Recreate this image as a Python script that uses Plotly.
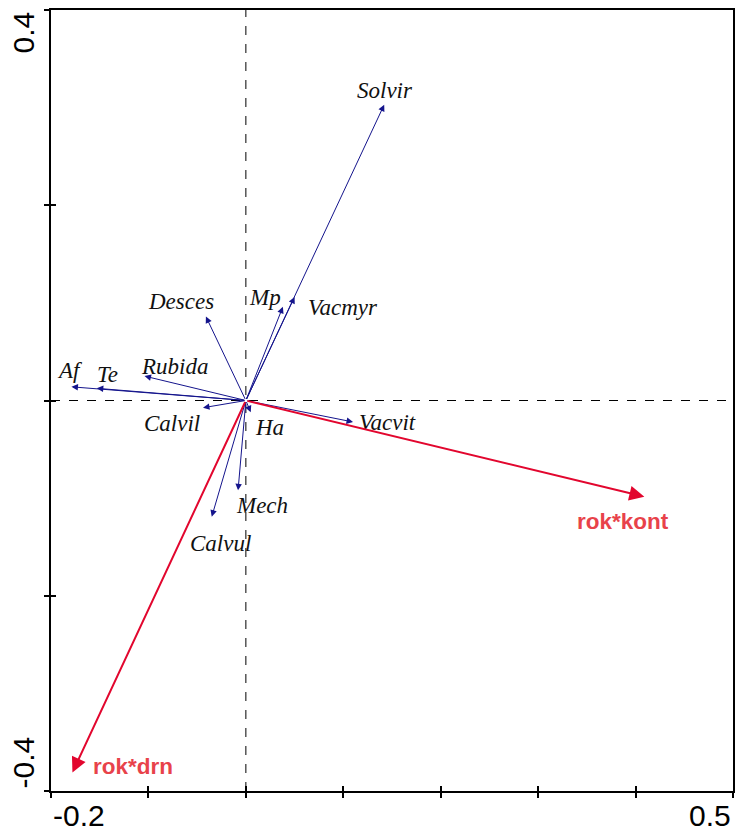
import plotly.graph_objects as go

# Species vectors (arrow tips) and their label anchors
species = ["Solvir", "Vacmyr", "Mp", "Desces", "Rubida", "Te", "Af",
           "Calvil", "Ha", "Mech", "Calvul", "Vacvit"]
sp_x = [0.142, 0.050, 0.038, -0.041, -0.104, -0.153, -0.179,
        -0.044, 0.005, -0.008, -0.035, 0.110]
sp_y = [0.303, 0.106, 0.096, 0.086, 0.025, 0.0125, 0.014,
        -0.0074, -0.012, -0.092, -0.119, -0.022]
sp_lab_x = [0.143, 0.100, 0.0195, -0.0665, -0.0737, -0.142, -0.180,
            -0.0757, 0.0246, 0.0164, -0.0256, 0.145]
sp_lab_y = [0.318, 0.095, 0.105, 0.101, 0.035, 0.027, 0.031,
            -0.024, -0.028, -0.108, -0.146, -0.023]

# Explanatory variables (interaction terms)
env = ["rok*kont", "rok*drn"]
env_x = [0.409, -0.178]
env_y = [-0.0986, -0.381]
env_lab_x = [0.387, -0.1157]
env_lab_y = [-0.1235, -0.3745]

x_range = [-0.2, 0.5]
y_range = [-0.4, 0.4]
x_ticks = [-0.2, -0.1, 0.0, 0.1, 0.2, 0.3, 0.4, 0.5]
y_ticks = [-0.4, -0.2, 0.0, 0.2, 0.4]

BLUE = "#14148c"
RED = "#e2062e"
RED_TXT = "#e8424a"

fig = go.Figure()
# invisible traces so both axis pairs are drawn
fig.add_trace(go.Scatter(x=x_range, y=y_range, mode="markers",
                         marker=dict(opacity=0), hoverinfo="skip", showlegend=False))
fig.add_trace(go.Scatter(x=x_range, y=y_range, mode="markers", xaxis="x2", yaxis="y2",
                         marker=dict(opacity=0), hoverinfo="skip", showlegend=False))

annotations = []
for name, x, y, lx, ly in zip(species, sp_x, sp_y, sp_lab_x, sp_lab_y):
    annotations.append(dict(x=x, y=y, ax=0, ay=0, xref="x", yref="y", axref="x", ayref="y",
                            showarrow=True, arrowhead=2, arrowsize=1.3, arrowwidth=1,
                            arrowcolor=BLUE, standoff=0, text=""))
    annotations.append(dict(x=lx, y=ly, xref="x", yref="y", text=name, showarrow=False,
                            font=dict(family="Liberation Serif", size=23, color="#111111",
                                      style="italic")))
for name, x, y, lx, ly in zip(env, env_x, env_y, env_lab_x, env_lab_y):
    annotations.append(dict(x=x, y=y, ax=0, ay=0, xref="x", yref="y", axref="x", ayref="y",
                            showarrow=True, arrowhead=2, arrowsize=1.5, arrowwidth=2,
                            arrowcolor=RED, standoff=0, text=""))
    annotations.append(dict(x=lx, y=ly, xref="x", yref="y", text=name, showarrow=False,
                            font=dict(family="Liberation Sans", size=22.5, color=RED_TXT,
                                      weight="bold")))

# Extreme axis values, justified inward
lab_font = dict(family="Liberation Sans", size=30, color="#000000")
annotations += [
    dict(x=x_range[0], y=0, xref="x", yref="paper", text="-0.2", showarrow=False,
         xanchor="left", yanchor="top", yshift=-6, font=lab_font),
    dict(x=x_range[1], y=0, xref="x", yref="paper", text="0.5", showarrow=False,
         xanchor="right", yanchor="top", yshift=-6, font=lab_font),
    dict(x=0, y=y_range[1], xref="paper", yref="y", text="0.4", showarrow=False,
         textangle=-90, xanchor="right", yanchor="top", xshift=-10, font=lab_font),
    dict(x=0, y=y_range[0], xref="paper", yref="y", text="-0.4", showarrow=False,
         textangle=-90, xanchor="right", yanchor="bottom", xshift=-10, font=lab_font),
]

shapes = [
    dict(type="line", xref="x", yref="paper", x0=0, x1=0, y0=0, y1=1,
         line=dict(color="#000000", width=1, dash="dash")),
    dict(type="line", xref="paper", yref="y", x0=0, x1=1, y0=0, y1=0,
         line=dict(color="#000000", width=1, dash="dash")),
]

common = dict(showgrid=False, zeroline=False, showticklabels=False, ticklen=5,
              tickwidth=1.5, tickcolor="#000000")
fig.update_layout(
    width=737, height=834,
    margin=dict(l=51, r=2, t=10, b=43),
    plot_bgcolor="white", paper_bgcolor="white",
    showlegend=False,
    xaxis=dict(range=x_range, tickvals=x_ticks, ticks="outside", showline=True,
               linecolor="#000000", linewidth=2, mirror=True, **common),
    yaxis=dict(range=y_range, tickvals=y_ticks, ticks="outside", showline=True,
               linecolor="#000000", linewidth=2, mirror=True, **common),
    xaxis2=dict(range=x_range, tickvals=x_ticks, ticks="inside", overlaying="x",
                showline=False, **common),
    yaxis2=dict(range=y_range, tickvals=y_ticks, ticks="inside", overlaying="y",
                showline=False, **common),
    annotations=annotations,
    shapes=shapes,
)

fig.write_html("out.html")
